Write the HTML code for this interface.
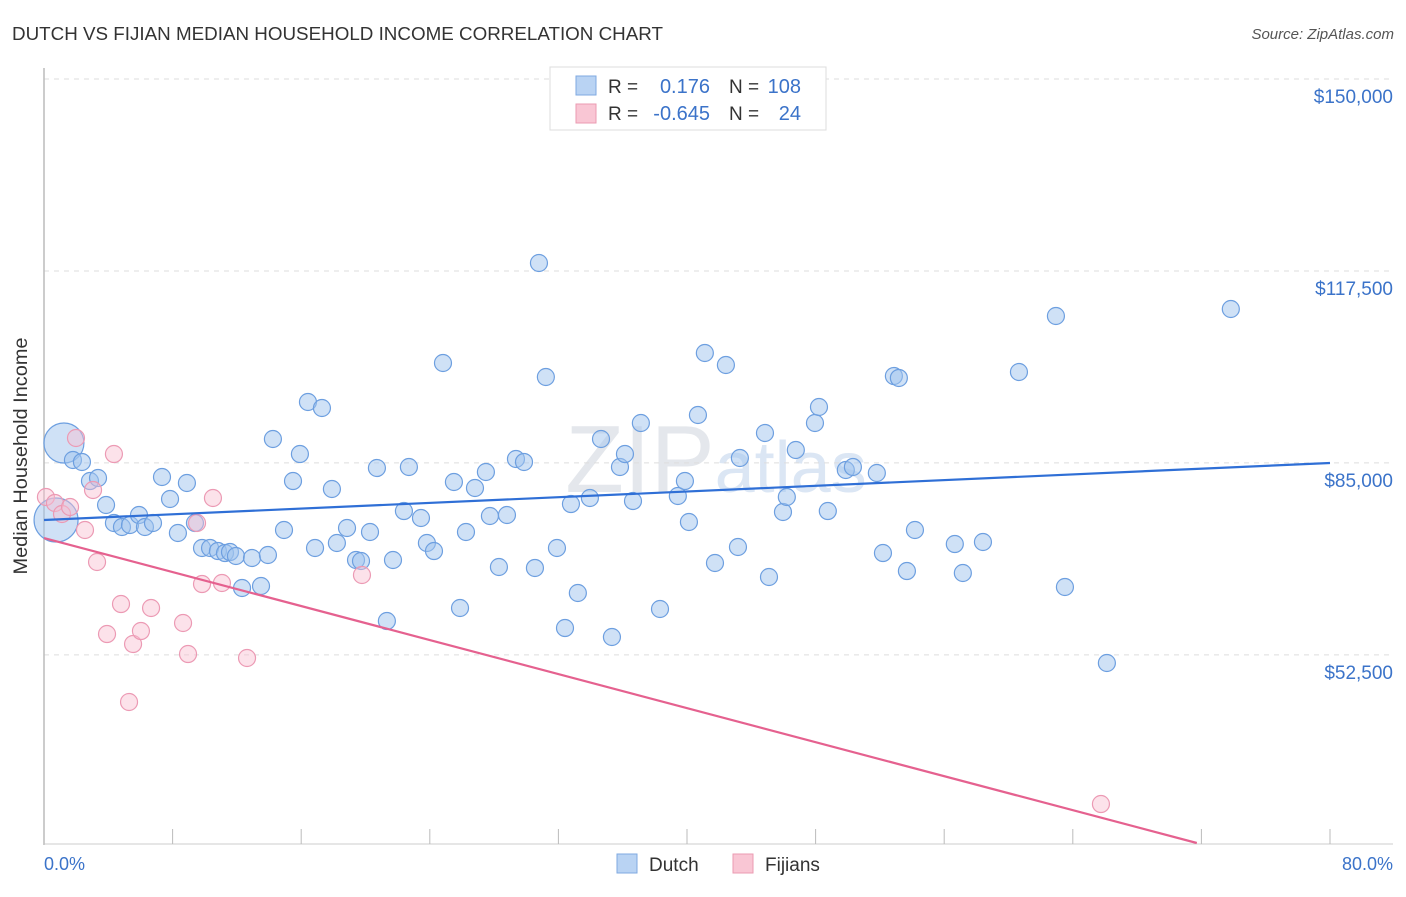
<!DOCTYPE html>
<html><head><meta charset="utf-8"><style>
body{margin:0;background:#fff;font-family:"Liberation Sans",sans-serif;}
svg text{font-family:"Liberation Sans",sans-serif;}
</style></head><body>
<svg id="chart" width="1406" height="892" viewBox="0 0 1406 892" xmlns="http://www.w3.org/2000/svg">
<text x="12" y="40" font-size="18" fill="#333" textLength="651" lengthAdjust="spacingAndGlyphs">DUTCH VS FIJIAN MEDIAN HOUSEHOLD INCOME CORRELATION CHART</text>
<text x="1394" y="39" font-size="15" fill="#555" text-anchor="end" font-style="italic">Source: ZipAtlas.com</text>
<text x="716" y="492" font-size="96" fill="#e4e7ec" text-anchor="middle" font-family="Liberation Serif">ZIP<tspan font-size="72" font-family="Liberation Sans" fill="#dbe6f4">atlas</tspan></text>
<g id="grid"></g>
<line x1="44" y1="68" x2="44" y2="845" stroke="#bbb" stroke-width="1.5"/>
<line x1="44" y1="844" x2="1393" y2="844" stroke="#ccc" stroke-width="1"/>
<g id="xticks"></g>
<text x="27" y="456" font-size="19" fill="#333" text-anchor="middle" textLength="237" lengthAdjust="spacingAndGlyphs" transform="rotate(-90 27 456)">Median Household Income</text>
<text x="44" y="870" font-size="18" fill="#3b73c9">0.0%</text>
<text x="1393" y="870" font-size="18" fill="#3b73c9" text-anchor="end">80.0%</text>
<g id="points"></g>
<g id="lines"></g>
<g>
<rect x="550" y="67" width="276" height="63" fill="#fff" stroke="#ddd"/>
<rect x="576" y="76" width="20" height="19" fill="#b9d3f3" stroke="#7fa9e0"/>
<rect x="576" y="104" width="20" height="19" fill="#f9c6d4" stroke="#eb9bb2"/>
<text x="608" y="93" font-size="19" fill="#333">R = </text>
<text x="710" y="93" font-size="20" fill="#3b73c9" text-anchor="end">0.176</text>
<text x="729" y="93" font-size="19" fill="#333">N =</text>
<text x="801" y="93" font-size="20" fill="#3b73c9" text-anchor="end">108</text>
<text x="608" y="120" font-size="19" fill="#333">R = </text>
<text x="710" y="120" font-size="20" fill="#3b73c9" text-anchor="end">-0.645</text>
<text x="729" y="120" font-size="19" fill="#333">N =</text>
<text x="801" y="120" font-size="20" fill="#3b73c9" text-anchor="end">24</text>
</g>
<g>
<rect x="617" y="854" width="20" height="19" fill="#b9d3f3" stroke="#7fa9e0"/>
<text x="649" y="871" font-size="19" fill="#333">Dutch</text>
<rect x="733" y="854" width="20" height="19" fill="#f9c6d4" stroke="#eb9bb2"/>
<text x="765" y="871" font-size="19" fill="#333">Fijians</text>
</g>
</svg>
<script>
const yTicks=[52500,85000,117500,150000];
const yTickLabels=["$52,500","$85,000","$117,500","$150,000"];
const xTicks=[0,8,16,24,32,40,48,56,64,72,80];
const dutchX=[1.24,0.75,1.80,2.36,2.86,3.36,3.86,4.35,4.85,5.35,5.91,6.28,6.78,7.34,7.84,8.33,8.89,9.39,9.83,10.33,10.82,11.26,11.57,11.94,12.32,12.94,13.50,13.93,14.24,14.93,15.49,15.92,16.42,16.86,17.29,17.91,18.22,18.85,19.41,19.72,20.28,20.71,21.33,21.71,22.39,22.70,23.45,23.82,24.26,24.82,25.50,25.88,26.25,26.81,27.49,27.74,28.30,28.80,29.36,29.86,30.54,30.79,31.22,31.91,32.41,32.78,33.21,33.96,34.65,35.33,35.83,36.14,36.64,37.13,38.32,39.43,39.87,40.12,40.68,41.11,41.74,42.42,43.17,43.29,44.85,45.10,45.97,46.21,46.77,47.96,48.21,48.76,49.88,50.32,51.81,52.19,52.87,53.18,53.68,54.18,56.66,57.16,58.41,60.65,62.95,63.51,66.12,73.83];
const dutchY=[88375,75339,85497,85160,81941,82449,77878,74831,74154,74492,76185,74154,74831,82619,78894,73138,81603,74831,70598,70598,70090,69751,69920,69244,63826,68905,64165,69413,89052,73646,81941,86512,95316,70598,94300,80587,71445,73984,68567,68398,73307,84142,58239,68567,76862,84312,75677,71445,70090,101919,81772,60440,73307,80756,83465,76016,67382,76185,85666,85160,67213,118849,99549,70598,57054,78047,62980,79063,89052,55531,84312,86512,78555,91761,60271,79402,81941,75000,93115,103612,68059,101580,70768,85835,90068,65689,76693,79233,87190,91761,94470,76862,83804,84312,83296,69751,99718,99380,66704,73646,71275,66366,71614,100395,109876,63996,51129,111061];
const dutchWeight=[6,7,1,1,1,1,1,1,1,1,1,1,1,1,1,1,1,1,1,1,1,1,1,1,1,1,1,1,1,1,1,1,1,1,1,1,1,1,1,1,1,1,1,1,1,1,1,1,1,1,1,1,1,1,1,1,1,1,1,1,1,1,1,1,1,1,1,1,1,1,1,1,1,1,1,1,1,1,1,1,1,1,1,1,1,1,1,1,1,1,1,1,1,1,1,1,1,1,1,1,1,1,1,1,1,1,1,1];
const fijiX=[0.12,0.68,1.12,1.62,1.99,2.55,3.05,3.30,3.92,4.35,4.79,5.29,5.54,6.03,6.66,8.65,8.96,9.52,9.83,10.51,11.07,12.63,19.78,65.75];
const fijiY=[79233,78217,76355,77540,89221,73646,80418,68228,56038,86512,61117,44526,54345,56546,60440,57901,52652,74831,64503,79063,64673,51975,66027,27257];
const dutchTrend=[75339,84989];
const fijiTrend=[72290,-720];
const NS="http://www.w3.org/2000/svg";
const X0=44,X1=1330,Y0=843,Y1=79,VMIN=20655,VMAX=150000;
const sx=v=>X0+(v/80)*(X1-X0);
const sy=v=>Y0-(v-VMIN)/(VMAX-VMIN)*(Y0-Y1);
function mk(tag,attrs,parent){const e=document.createElementNS(NS,tag);for(const k in attrs)e.setAttribute(k,attrs[k]);document.getElementById(parent).appendChild(e);return e;}
yTicks.forEach((t,i)=>{
  const l=mk('line',{x1:44,x2:1393,y1:sy(t),y2:sy(t),stroke:'#ddd','stroke-dasharray':'5,5'},'grid');
  
  
  const tx=mk('text',{x:1393,y:sy(t)+24,'font-size':19,fill:'#3b73c9','text-anchor':'end'},'grid');
  tx.textContent=yTickLabels[i];
  
  
});
xTicks.forEach(t=>{
  const l=mk('line',{x1:sx(t),x2:sx(t),y1:829,y2:844,stroke:'#bbb'},'xticks');
  
  
});
dutchX.forEach((x,i)=>{
  const r=dutchWeight[i]>1?8+dutchWeight[i]*2:8.5;
  const c=mk('circle',{cx:sx(x),cy:sy(dutchY[i]),r:r,fill:'rgba(160,196,238,0.5)',stroke:'#6d9fe0','stroke-width':1.2},'points');
  
  
});
fijiX.forEach((x,i)=>{
  const c=mk('circle',{cx:sx(x),cy:sy(fijiY[i]),r:8.5,fill:'rgba(248,190,208,0.45)',stroke:'#ec9ab4','stroke-width':1.2},'points');
  
  
});
const dl=mk('line',{x1:sx(0),y1:sy(dutchTrend[0]),x2:sx(80),y2:sy(dutchTrend[1]),stroke:'#2f6fd6','stroke-width':2.2},'lines');


const fEnd=(VMIN-fijiTrend[0])/fijiTrend[1];
const fl=mk('line',{x1:sx(0),y1:sy(fijiTrend[0]),x2:sx(fEnd),y2:sy(VMIN),stroke:'#e5618f','stroke-width':2.2},'lines');


</script>
</body></html>
